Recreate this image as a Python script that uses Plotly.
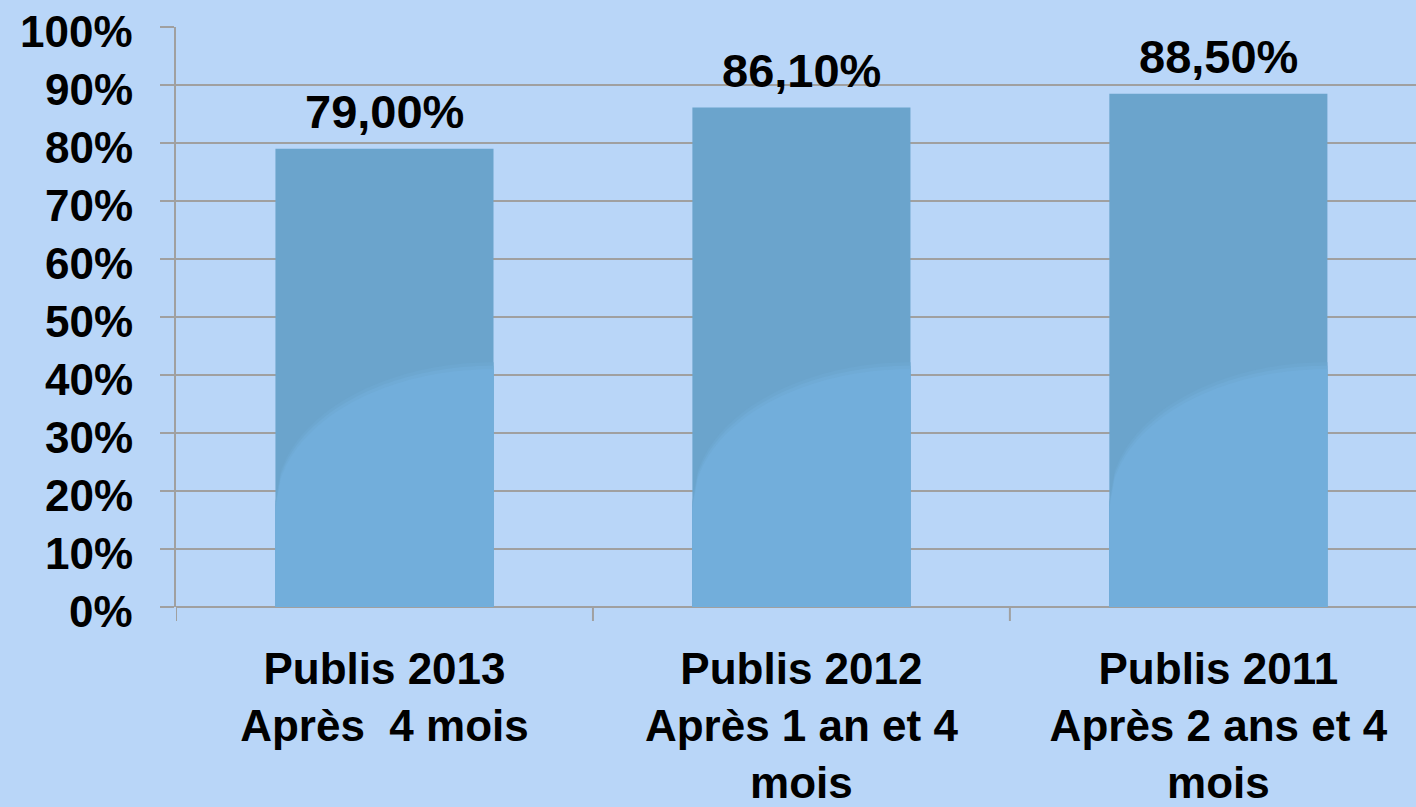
import plotly.graph_objects as go

categories = ["Publis 2013<br>Après  4 mois", "Publis 2012<br>Après 1 an et 4<br>mois", "Publis 2011<br>Après 2 ans et 4<br>mois"]
values = [79.0, 86.1, 88.5]
tick_values = [0, 10, 20, 30, 40, 50, 60, 70, 80, 90, 100]
tick_labels = [f"{v}%" for v in tick_values]

BG = "#B9D6F8"
BAR_DARK = "#6BA4CC"
BAR_BANDS = ["#6DA7D0", "#70ABD6", "#72AEDB"]
GRID = "#A0A0A0"
FONT = "Liberation Sans"
BAR_W = 0.523
FS = 44

fig = go.Figure()
fig.add_trace(go.Bar(x=list(range(len(categories))), y=values, width=BAR_W,
                     marker=dict(color=BAR_DARK, line=dict(width=0)),
                     hoverinfo="skip"))

# glossy lighter lower-right region on each bar (soft edge via bands)
shapes = []
for i, v in enumerate(values):
    x0, x1 = i - BAR_W / 2, i + BAR_W / 2
    for b, col in enumerate(BAR_BANDS):
        off = (len(BAR_BANDS) - 1 - b) * 0.6
        pts = []
        n = 40
        for k in range(n + 1):
            t = k / n
            y = 17 + off + 24 * (max(0.0, 1 - (1 - t) ** 2)) ** 0.5
            pts.append((x0 + t * (x1 - x0), y))
        path = f"M {x0},0 L {x0},{pts[0][1]} " + " ".join(f"L {px},{py}" for px, py in pts[1:]) + f" L {x1},0 Z"
        shapes.append(dict(type="path", path=path, xref="x", yref="y", fillcolor=col,
                           line=dict(width=0), layer="above"))

annotations = []
for i, v in enumerate(values):
    annotations.append(dict(x=i, y=v, xref="x", yref="y", text=f"{v:.2f}".replace(".", ",") + "%",
                            showarrow=False, yanchor="bottom", yshift=9,
                            font=dict(family=FONT, size=47, color="black", weight="bold")))
# y tick labels as annotations (slightly below gridline, as in source)
for tv, tl in zip(tick_values, tick_labels):
    annotations.append(dict(x=0, xref="paper", y=tv, yref="y", text=tl, showarrow=False,
                            xanchor="right", yanchor="middle", xshift=-41, yshift=-4,
                            font=dict(family=FONT, size=FS, color="black", weight="bold")))

fig.update_layout(
    width=1416, height=807,
    paper_bgcolor=BG, plot_bgcolor=BG,
    margin=dict(l=176, r=0, t=27, b=195),
    showlegend=False,
    shapes=shapes, annotations=annotations,
    font=dict(family=FONT, size=FS, color="black", weight="bold"),
)
fig.update_xaxes(
    range=[-0.5, 2.474],
    tickmode="array", tickvals=list(range(len(categories))), ticktext=categories,
    showgrid=False, zeroline=False, showline=False, ticks="",
    tickfont=dict(family=FONT, size=FS, color="black", weight="bold"),
    ticklabelstandoff=32,
)
# boundary ticks on x axis
for b in [-0.5, 0.5, 1.5]:
    fig.add_shape(type="line", x0=b, x1=b, xref="x", y0=0, y1=-14, yref="paper", ysizemode="pixel",
                  yanchor=0, line=dict(color=GRID, width=2))
fig.update_yaxes(
    range=[0, 100], tickmode="array", tickvals=tick_values, showticklabels=False,
    showgrid=True, gridcolor=GRID, gridwidth=2,
    zeroline=True, zerolinecolor=GRID, zerolinewidth=2,
    showline=True, linecolor=GRID, linewidth=2,
    ticks="outside", ticklen=14, tickcolor=GRID, tickwidth=2,
)
fig.write_html("out.html", config={"displayModeBar": False},
               post_script="document.body.style.margin='0';document.body.style.background='" + BG + "';")
